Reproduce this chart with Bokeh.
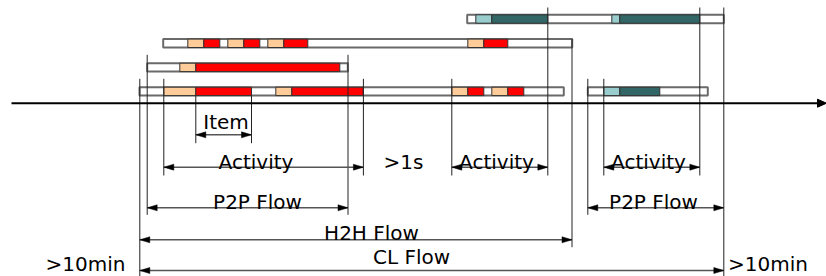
from bokeh.plotting import figure
from bokeh.models import Range1d
from bokeh.core.properties import value
from bokeh.embed import file_html
from bokeh.resources import INLINE

# ---- data (diagram positions, in timeline units) ----
row_y = [18.5, 42.8, 66.9, 90.9]          # timeline rows (top -> bottom)
row_h = 8.4

flow_row = [0, 1, 2, 3, 3]
flow_start = [466.7, 162.7, 146.7, 139.0, 587.3]
flow_end = [723.3, 571.7, 347.3, 563.3, 707.3]

seg_row = [0, 0, 0, 0,
           1, 1, 1, 1, 1, 1, 1, 1,
           2, 2,
           3, 3, 3, 3, 3, 3, 3, 3, 3, 3]
seg_start = [475.3, 491.3, 611.3, 619.3,
             187.3, 203.3, 227.3, 243.3, 267.3, 283.3, 467.3, 483.3,
             179.3, 195.3,
             163.3, 195.3, 275.3, 291.3, 451.3, 467.3, 491.3, 507.3, 603.3, 619.3]
seg_end = [491.3, 547.3, 619.3, 699.3,
           203.3, 219.3, 243.3, 259.3, 283.3, 307.3, 483.3, 507.3,
           195.3, 339.3,
           195.3, 251.0, 291.3, 362.7, 467.3, 483.3, 507.3, 523.3, 619.3, 659.3]
seg_kind = ["lt", "dk", "lt", "dk",
            "or", "rd", "or", "rd", "or", "rd", "or", "rd",
            "or", "rd",
            "or", "rd", "or", "rd", "or", "rd", "or", "rd", "lt", "dk"]
kind_color = {"or": "#FFCC99", "rd": "#FF0000", "lt": "#99CCCC", "dk": "#336666"}

# marker (extension) lines
mark_x = [139.3, 146.7, 163.3, 195.3, 251.0, 347.5, 362.9, 451.3, 547.3,
          571.5, 587.3, 603.3, 699.3, 723.3]
mark_top = [78.3, 54.3, 78.3, 95.0, 95.0, 54.3, 78.3, 78.3, 7.0,
            38.3, 78.3, 78.3, 7.0, 7.0]
mark_bot = [276.0, 214.3, 175.0, 142.7, 142.7, 214.3, 175.0, 175.0, 175.0,
            246.7, 214.3, 175.0, 175.0, 276.0]

# dimension arrows
dim_y = [134.3, 166.7, 166.7, 166.7, 207.3, 207.3, 239.3, 270.0]
dim_x0 = [195.3, 163.3, 451.3, 603.3, 146.7, 587.3, 139.3, 139.3]
dim_x1 = [251.0, 362.9, 547.3, 699.3, 347.5, 723.3, 571.5, 723.3]

labels = ["Item", "Activity", "Activity", "Activity", "P2P Flow", "P2P Flow",
          "H2H Flow", "CL Flow", ">1s", ">10min", ">10min"]
label_x = [225.5, 255.5, 496.0, 648.0, 257.0, 653.0, 371.0, 411.0, 403.0, 85.0, 767.5]
label_y = [126.7, 166.0, 166.0, 166.0, 206.0, 206.0, 237.3, 261.7, 166.0, 268.2, 268.2]

axis_y = 102.7
axis_x0, axis_x1 = 11.0, 826.0

# ---- figure ----
W, H = 826, 276
xr = Range1d(0, 826)
yr = Range1d(276, 0)
p = figure(width=W, height=H, x_range=xr, y_range=yr, output_backend="svg",
           toolbar_location=None, x_axis_location=None, y_axis_location=None,
           min_border=0, min_border_left=0, min_border_right=0,
           min_border_top=0, min_border_bottom=0)
p.grid.visible = False
p.outline_line_color = None
p.background_fill_color = "white"

sx = W / (xr.end - xr.start)         # px per unit
sy = H / (yr.start - yr.end)

# white flow bars
p.quad(left=flow_start, right=flow_end,
       top=[row_y[r] - row_h / 2 for r in flow_row],
       bottom=[row_y[r] + row_h / 2 for r in flow_row],
       fill_color="white", line_color="#6a6a6a", line_width=2)

# coloured segments
p.quad(left=seg_start, right=seg_end,
       top=[row_y[r] - row_h / 2 for r in seg_row],
       bottom=[row_y[r] + row_h / 2 for r in seg_row],
       fill_color=[kind_color[k] for k in seg_kind], line_color="#333333", line_width=1)

# extension lines
p.segment(x0=mark_x, y0=mark_top, x1=mark_x, y1=mark_bot, line_color="#222222", line_width=1)

# dimension arrows: shafts
p.segment(x0=dim_x0, y0=dim_y, x1=dim_x1, y1=dim_y, line_color="#555555", line_width=1.6)
# heads
hl, hw = 10 / sx, 3 / sy
hx, hy = [], []
for y, a, b in zip(dim_y, dim_x0, dim_x1):
    hx.append([a, a + hl, a + hl]); hy.append([y, y - hw, y + hw])
    hx.append([b, b - hl, b - hl]); hy.append([y, y - hw, y + hw])
p.patches(hx, hy, fill_color="black", line_color="black", line_width=0.5)

# main time axis
p.segment(x0=[axis_x0], y0=[axis_y], x1=[axis_x1 - 6 / sx], y1=[axis_y], line_color="black", line_width=2)
p.patches([[axis_x1, axis_x1 - 9 / sx, axis_x1 - 9 / sx]],
          [[axis_y, axis_y - 4 / sy, axis_y + 4 / sy]], fill_color="black", line_color="black")

# labels
p.text(x=label_x, y=label_y, text=labels, text_font=value("DejaVu Sans"),
       text_font_size="20px", text_align="center", text_baseline="alphabetic",
       text_color="black", y_offset=-5)

open("out.html", "w").write(file_html(p, INLINE))
